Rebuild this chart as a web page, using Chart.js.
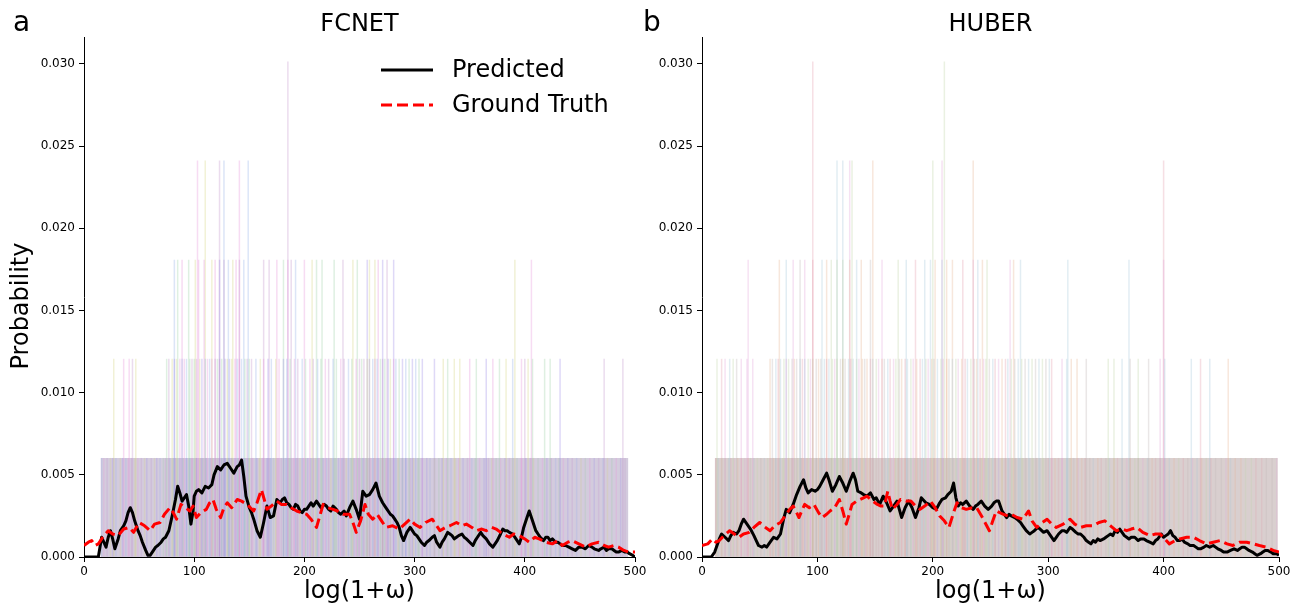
<!DOCTYPE html>
<html><head><meta charset="utf-8">
<script src="https://cdn.jsdelivr.net/npm/chart.js@4.4.1/dist/chart.umd.min.js"></script>
<style>
html,body{margin:0;padding:0;background:#fff;}
#wrap{position:relative;width:1300px;height:608px;overflow:hidden;background:#fff;}
.box{position:absolute;top:0;}
</style></head><body>
<div id="wrap">
<div class="box" style="left:0;width:650px;height:608px"><canvas id="c1" width="650" height="608"></canvas></div>
<div class="box" style="left:640px;width:660px;height:608px"><canvas id="c2" width="660" height="608"></canvas></div>
</div>
<script>
// ---------- ticks / labels ----------
const xTickValues = [0, 100, 200, 300, 400, 500];
const xTickLabels = ['0', '100', '200', '300', '400', '500'];
const yTickValues = [0, 0.005, 0.010, 0.015, 0.020, 0.025, 0.030];
const yTickLabels = ['0.000', '0.005', '0.010', '0.015', '0.020', '0.025', '0.030'];
const seriesNames = ['Predicted', 'Ground Truth'];
const panelTitles = ['FCNET', 'HUBER'];
const panelLetters = ['a', 'b'];
const xAxisLabel = 'log(1+ω)';
const yAxisLabel = 'Probability';
// histogram bar heights (one sample in a bin = 1 step)
const barLevels = [0.00603, 0.01206, 0.01809, 0.02412, 0.03015];

// ---------- FCNET curves [x, probability] ----------
const fcnetPred = [[0,0],[13,0],[16,0.0012],[18,0.0009],[20,0.0006],[22,0.0012],[24,0.0016],[26,0.0011],[28,0.0005],[31,0.0011],[33,0.0016],[36,0.0019],[38,0.0022],[40,0.0027],[42,0.003],[44,0.0027],[46,0.0022],[49,0.0016],[51,0.0013],[53,0.0009],[56,0.0004],[58,0.0001],[60,0.0001],[62,0.0003],[65,0.0006],[67,0.0007],[70,0.0009],[72,0.0011],[74,0.0012],[77,0.0016],[80,0.0025],[83,0.0035],[85,0.0043],[87,0.0039],[89,0.0034],[91,0.0036],[93,0.0038],[95,0.0031],[97,0.002],[99,0.0028],[100,0.0037],[102,0.004],[104,0.0041],[107,0.0039],[110,0.0043],[113,0.0042],[116,0.0044],[118,0.005],[121,0.0055],[124,0.0053],[127,0.0056],[130,0.0057],[133,0.0054],[136,0.0051],[139,0.0055],[141,0.0056],[143,0.0059],[145,0.0049],[147,0.0037],[150,0.003],[152,0.0027],[154,0.0023],[157,0.0016],[160,0.0012],[163,0.0021],[166,0.0031],[169,0.0024],[172,0.0025],[175,0.0035],[178,0.0033],[180,0.0035],[182,0.0036],[184,0.0033],[186,0.0032],[188,0.003],[190,0.0029],[192,0.0032],[194,0.0031],[196,0.0028],[198,0.0027],[200,0.0029],[202,0.0029],[204,0.0031],[206,0.0033],[208,0.0031],[211,0.0034],[213,0.0032],[215,0.003],[218,0.0032],[220,0.0031],[222,0.0029],[224,0.0028],[226,0.0031],[229,0.0029],[231,0.0027],[233,0.0026],[236,0.0028],[238,0.0025],[241,0.003],[244,0.0034],[247,0.0029],[250,0.0023],[253,0.004],[256,0.0037],[259,0.0038],[262,0.0041],[265,0.0045],[268,0.0037],[271,0.0033],[273,0.0031],[275,0.0029],[278,0.0026],[280,0.0025],[282,0.0023],[284,0.0021],[286,0.0018],[288,0.0013],[290,0.001],[293,0.0015],[296,0.0018],[298,0.0016],[300,0.0014],[302,0.0013],[304,0.0011],[306,0.0009],[309,0.0007],[311,0.0009],[313,0.001],[316,0.0012],[318,0.0013],[320,0.0009],[323,0.0006],[325,0.0009],[327,0.0011],[330,0.0015],[332,0.0014],[334,0.0013],[336,0.0011],[338,0.0012],[340,0.0013],[343,0.0014],[345,0.0012],[347,0.0011],[350,0.0009],[353,0.0007],[355,0.001],[357,0.0012],[360,0.0015],[362,0.0013],[365,0.0011],[368,0.0008],[371,0.0006],[373,0.0008],[375,0.001],[378,0.0014],[380,0.0017],[382,0.0016],[384,0.0016],[386,0.0015],[389,0.0014],[392,0.0011],[395,0.0008],[397,0.0012],[399,0.0018],[402,0.0024],[404,0.0028],[407,0.0022],[410,0.0016],[412,0.0014],[414,0.0012],[417,0.001],[419,0.0012],[421,0.0012],[423,0.001],[425,0.0011],[428,0.0009],[430,0.0009],[432,0.0008],[434,0.0007],[437,0.0007],[440,0.0006],[443,0.0005],[446,0.0004],[449,0.0006],[452,0.0006],[455,0.0005],[458,0.0007],[461,0.0006],[463,0.0005],[467,0.0004],[469,0.0005],[472,0.0006],[474,0.0004],[476,0.0005],[479,0.0005],[481,0.0004],[483,0.0003],[485,0.0003],[488,0.0004],[491,0.0003],[493,0.0003],[495,0.0002],[498,0.0001],[500,0]];
const fcnetTruth = [[0,0.0007],[4,0.0009],[7,0.001],[10,0.0007],[13,0.0008],[17,0.0012],[22,0.0016],[26,0.0014],[31,0.0013],[36,0.0017],[41,0.0018],[45,0.0015],[50,0.0021],[55,0.0019],[60,0.0016],[64,0.002],[69,0.0021],[73,0.0026],[78,0.003],[81,0.0027],[84,0.0023],[88,0.0032],[92,0.003],[96,0.0028],[99,0.0031],[102,0.0024],[106,0.0027],[111,0.0029],[114,0.0033],[117,0.0035],[120,0.0029],[124,0.0024],[127,0.003],[130,0.0033],[134,0.003],[139,0.0035],[143,0.0034],[148,0.0032],[151,0.003],[154,0.0028],[157,0.0033],[161,0.0041],[164,0.0034],[166,0.0029],[170,0.0031],[175,0.0034],[179,0.0032],[184,0.0032],[188,0.003],[193,0.0028],[197,0.0027],[202,0.0026],[206,0.0023],[211,0.0018],[214,0.0025],[217,0.0032],[221,0.003],[226,0.0029],[230,0.0028],[235,0.0026],[238,0.0026],[241,0.0026],[244,0.0021],[247,0.0015],[251,0.0022],[255,0.0032],[258,0.0026],[262,0.0023],[266,0.0026],[270,0.0022],[274,0.0018],[280,0.0019],[286,0.0017],[291,0.002],[296,0.0023],[300,0.002],[305,0.0018],[310,0.0021],[316,0.0023],[320,0.0019],[323,0.0016],[328,0.0018],[332,0.0019],[338,0.0021],[343,0.0019],[347,0.002],[352,0.0018],[356,0.0016],[361,0.0017],[365,0.0016],[370,0.0018],[374,0.0017],[380,0.0014],[386,0.0012],[390,0.0014],[395,0.0013],[400,0.0011],[404,0.0009],[409,0.0012],[413,0.0011],[419,0.0009],[425,0.0008],[430,0.001],[434,0.0007],[439,0.0009],[443,0.001],[449,0.0008],[455,0.0006],[461,0.0008],[467,0.0009],[472,0.0007],[476,0.0006],[481,0.0007],[485,0.0006],[490,0.0004],[494,0.0003],[500,0.0003]];

// ---------- HUBER curves ----------
const huberPred = [[0,0],[8,0],[11,0.0003],[13,0.0007],[15,0.0011],[17,0.0014],[20,0.0012],[23,0.001],[25,0.0013],[27,0.0015],[30,0.0014],[32,0.0016],[34,0.002],[36,0.0023],[39,0.002],[42,0.0017],[45,0.0013],[47,0.001],[49,0.0007],[52,0.0006],[54,0.0007],[56,0.0006],[59,0.0009],[62,0.0012],[65,0.0011],[68,0.0014],[71,0.0024],[73,0.0029],[76,0.0027],[79,0.0032],[82,0.0038],[85,0.0043],[88,0.0047],[90,0.0042],[92,0.0039],[95,0.0041],[98,0.004],[100,0.0041],[102,0.0043],[105,0.0047],[108,0.0051],[110,0.0047],[113,0.004],[116,0.0044],[119,0.0049],[122,0.0045],[125,0.004],[128,0.0046],[131,0.0051],[133,0.0047],[135,0.004],[138,0.0039],[140,0.0038],[143,0.0037],[146,0.0039],[149,0.0035],[151,0.0036],[154,0.0032],[157,0.0037],[160,0.0033],[163,0.0028],[166,0.0031],[169,0.0034],[171,0.0029],[173,0.0024],[176,0.003],[179,0.0034],[182,0.003],[185,0.0024],[188,0.003],[190,0.0036],[194,0.0033],[197,0.0032],[200,0.003],[203,0.0029],[206,0.0033],[208,0.0035],[211,0.0036],[213,0.0038],[216,0.004],[218,0.0045],[220,0.0036],[222,0.0031],[224,0.0033],[226,0.0032],[229,0.0034],[232,0.0031],[235,0.0029],[237,0.0031],[239,0.0032],[242,0.0034],[245,0.0031],[248,0.0029],[251,0.0031],[253,0.0033],[255,0.0034],[257,0.0034],[260,0.0028],[262,0.0026],[264,0.0024],[266,0.0026],[268,0.0025],[271,0.0024],[273,0.0023],[276,0.0021],[278,0.0019],[281,0.0016],[284,0.0014],[286,0.0015],[288,0.0016],[291,0.0018],[293,0.0017],[296,0.0015],[299,0.0016],[302,0.0013],[305,0.001],[307,0.0012],[309,0.0014],[312,0.0016],[314,0.0016],[316,0.0015],[319,0.0018],[321,0.0017],[324,0.0015],[326,0.0014],[328,0.0014],[331,0.0012],[333,0.001],[335,0.0009],[337,0.0008],[339,0.001],[341,0.0009],[343,0.0011],[345,0.001],[348,0.0011],[350,0.0012],[352,0.0013],[354,0.0014],[356,0.0013],[358,0.0016],[360,0.0015],[362,0.0017],[364,0.0015],[366,0.0013],[368,0.0012],[370,0.0011],[372,0.0012],[375,0.0012],[378,0.001],[380,0.0011],[383,0.0011],[385,0.001],[388,0.0009],[391,0.0008],[393,0.001],[395,0.0011],[398,0.0014],[400,0.0012],[402,0.0013],[404,0.0014],[406,0.0016],[408,0.0013],[410,0.0012],[412,0.001],[414,0.001],[416,0.0011],[418,0.0009],[421,0.0008],[423,0.0007],[426,0.0007],[428,0.0006],[430,0.0005],[432,0.0005],[435,0.0006],[437,0.0007],[440,0.0006],[443,0.0007],[445,0.0006],[447,0.0005],[450,0.0004],[452,0.0003],[455,0.0003],[458,0.0004],[461,0.0005],[464,0.0004],[466,0.0005],[468,0.0006],[470,0.0006],[472,0.0005],[474,0.0004],[477,0.0003],[479,0.0002],[481,0.0001],[484,0.0002],[486,0.0003],[488,0.0004],[490,0.0004],[493,0.0003],[495,0.0002],[498,0.0002],[500,0.0001]];
const huberTruth = [[0,0.0007],[5,0.0008],[9,0.0011],[12,0.0009],[15,0.001],[19,0.0013],[24,0.0016],[28,0.0014],[32,0.0012],[36,0.0014],[41,0.0015],[45,0.0018],[50,0.0021],[55,0.0018],[59,0.0016],[63,0.0019],[68,0.0021],[71,0.0024],[73,0.0026],[76,0.0029],[79,0.0031],[82,0.0027],[84,0.0024],[87,0.0029],[89,0.0032],[93,0.003],[97,0.0032],[101,0.0027],[104,0.0024],[108,0.0026],[111,0.0028],[115,0.003],[119,0.0035],[122,0.0028],[125,0.002],[128,0.0027],[130,0.0032],[134,0.0034],[137,0.0035],[140,0.0036],[143,0.0037],[148,0.0034],[152,0.0032],[155,0.0031],[158,0.0031],[161,0.004],[163,0.0034],[165,0.0029],[169,0.0032],[172,0.0035],[177,0.0034],[181,0.0034],[185,0.0031],[189,0.0029],[193,0.0031],[198,0.0034],[202,0.003],[206,0.0025],[210,0.0022],[214,0.0018],[218,0.0027],[221,0.0033],[225,0.003],[229,0.0029],[234,0.003],[238,0.003],[243,0.0024],[249,0.0016],[252,0.0022],[255,0.0028],[258,0.0027],[261,0.0026],[265,0.0025],[268,0.0026],[273,0.0024],[278,0.0023],[283,0.0028],[286,0.0022],[290,0.0018],[295,0.0021],[299,0.0023],[303,0.002],[307,0.0018],[313,0.002],[319,0.0023],[323,0.002],[328,0.0018],[333,0.0019],[339,0.0019],[344,0.0021],[349,0.0022],[354,0.0019],[359,0.0016],[364,0.0017],[368,0.0016],[372,0.0017],[377,0.0018],[382,0.0015],[388,0.0013],[393,0.0014],[397,0.0014],[401,0.0011],[405,0.0008],[410,0.001],[414,0.0011],[420,0.0012],[426,0.0012],[431,0.001],[437,0.0008],[443,0.0009],[449,0.001],[455,0.0008],[460,0.0007],[466,0.0009],[472,0.0009],[478,0.0008],[483,0.0007],[489,0.0006],[495,0.0004],[500,0.0003]];

// ---------- background per-sample histogram bins (x positions by height step) ----------
const fcnetBand = [15, 494];
const fcnetBins1 = [16,18,21,24,26,29,33,35,38,40,43,46,49,52,55,57,61,64,66,69,72,74,78,81,83,87,90,93,96,98,102,106,108,111,115,117,121,125,128,131,134,137,140,144,146,150,153,157,159,162,166,169,172,176,179,183,186,190,193,196,199,203,206,210,213,217,220,224,228,231,234,238,242,245,249,253,256,260,263,267,271,274,278,281,285,289,292,296,299,303,307,311,314,318,322,325,329,333,337,340,344,348,352,355,359,363,367,370,374,378,382,386,389,393,397,401,405,408,412,416,420,424,428,431,435,439,443,447,451,455,459,463,467,471,475,479,483,487,491];
const fcnetBins2 = [27,36,41,44,47,75,77,80,82,84,87,89,91,93,96,98,100,102,105,107,110,112,114,116,119,121,123,125,128,130,132,134,137,139,141,143,146,148,150,152,156,160,163,167,170,174,177,181,184,187,191,194,198,201,205,208,212,215,219,222,226,229,233,236,240,243,247,250,252,254,257,259,262,264,266,269,271,273,276,278,281,283,286,289,292,295,298,301,304,307,318,326,330,336,341,350,356,365,371,377,383,389,397,400,403,407,418,423,432,472,489];
const fcnetBins3 = [82,85,89,95,101,104,109,116,119,123,127,131,135,138,141,145,163,168,175,181,185,188,192,200,207,211,216,227,235,244,248,257,259,264,267,271,275,281,391,406];
const fcnetBins4 = [103,110,123,127,141,149];
const fcnetBins5 = [185];

const huberBand = [11, 499];
const huberBins1 = [12,14,17,20,23,25,28,31,34,37,40,42,45,48,51,54,57,59,62,64,67,70,72,75,78,80,83,86,88,91,94,96,99,102,104,107,110,112,115,118,121,123,126,129,131,134,137,140,142,145,148,151,153,156,159,162,164,167,170,173,176,178,181,184,187,190,192,195,198,201,204,207,209,212,215,218,221,224,227,230,233,236,239,242,245,248,251,254,257,260,263,266,269,272,275,278,281,284,287,290,293,296,300,303,306,309,312,316,319,322,326,329,332,336,339,343,346,350,353,357,360,364,368,371,375,378,382,386,390,393,397,401,405,409,413,417,421,425,429,433,437,441,445,450,454,458,462,467,471,476,480,485,489,494,498];
const huberBins2 = [13,17,20,24,27,30,34,39,44,59,61,64,66,68,71,73,75,78,80,82,85,87,89,92,94,96,99,101,103,106,108,110,113,115,117,120,122,124,127,129,131,134,136,139,141,143,146,148,151,153,156,158,161,163,166,168,171,173,176,178,181,183,186,189,191,194,196,199,201,204,207,209,212,214,217,220,222,225,228,230,233,236,238,241,244,246,249,252,254,257,260,263,265,268,271,274,277,280,283,286,289,292,295,298,301,303,312,316,320,325,333,352,357,364,371,378,387,397,401,424,432,440,456];
const huberBins3 = [40,67,73,79,85,89,96,104,108,112,117,122,128,134,138,146,156,170,177,185,193,198,202,208,212,217,226,235,239,243,247,267,270,276,317,370,400];
const huberBins4 = [117,122,128,130,148,200,208,235,400];
const huberBins5 = [96,210];

// ---------- styling ----------
const FONT = 'DejaVu Sans';
const fcnetPalette = ['rgba(150,130,230,A)','rgba(230,140,215,A)','rgba(150,205,160,A)','rgba(210,210,120,A)','rgba(140,170,230,A)','rgba(190,140,200,A)'];
const huberPalette = ['rgba(225,150,165,A)','rgba(185,210,160,A)','rgba(230,175,140,A)','rgba(160,195,215,A)','rgba(225,160,215,A)','rgba(185,175,175,A)'];

function pal(p, a) { return p.map(c => c.replace('A', a)); }

function barsDs(xs, level, palette, alpha) {
  const cols = pal(palette, alpha);
  return {
    type: 'bar', data: xs.map(x => ({x: x, y: level})),
    backgroundColor: xs.map((x, i) => cols[(i * 7 + Math.round(x)) % cols.length]),
    barThickness: 1.5, grouped: false, borderWidth: 0, order: 5, inflateAmount: 0
  };
}
function bandDs(range, level, color, order) {
  return {
    type: 'line', data: [{x: range[0], y: level}, {x: range[1], y: level}],
    fill: 'origin', backgroundColor: color, borderWidth: 0, pointRadius: 0, order: order
  };
}
function lineDs(pts, name, color, dash, order) {
  return {
    type: 'line', label: name, data: pts.map(p => ({x: p[0], y: p[1]})),
    borderColor: color, borderWidth: 3, borderDash: dash || [],
    pointRadius: 0, tension: 0, fill: false, order: order, borderJoinStyle: 'round', borderCapStyle: 'butt'
  };
}

const textPlugin = {
  id: 'panelText',
  afterDraw(chart, args, o) {
    const ctx = chart.ctx, ca = chart.chartArea;
    ctx.save();
    ctx.fillStyle = '#000';
    ctx.textBaseline = 'alphabetic';
    ctx.font = '24px "' + FONT + '"';
    ctx.textAlign = 'center';
    ctx.fillText(o.title, (ca.left + ca.right) / 2, 31);
    if (o.yLabel) {
      ctx.save();
      ctx.translate(22, 306);
      ctx.rotate(-Math.PI / 2);
      ctx.textBaseline = 'middle';
      ctx.fillText(o.yLabel, 0, 0);
      ctx.restore();
    }
    ctx.font = '28px "' + FONT + '"';
    ctx.textAlign = 'left';
    ctx.fillText(o.letter, o.letterX, 31);
    if (o.legend) {
      const ds = chart.data.datasets.filter(d => d.label);
      const ys = [70, 105];
      ds.forEach((d, i) => {
        ctx.beginPath();
        ctx.strokeStyle = d.borderColor;
        ctx.lineWidth = d.borderWidth;
        ctx.setLineDash(d.borderDash || []);
        ctx.moveTo(381, ys[i]); ctx.lineTo(433, ys[i]);
        ctx.stroke();
        ctx.setLineDash([]);
        ctx.font = '24px "' + FONT + '"';
        ctx.textBaseline = 'middle';
        ctx.fillText(d.label, 452, ys[i] + 1);
      });
    }
    ctx.restore();
  }
};

function makeChart(id, cfg) {
  const palette = cfg.palette;
  const datasets = [
    lineDs(cfg.pred, seriesNames[0], '#000000', null, 1),
    lineDs(cfg.truth, seriesNames[1], '#ff0000', [11, 5], 0),
    bandDs(cfg.band, barLevels[0], cfg.bandColor, 9),
    barsDs(cfg.bins[0], barLevels[0], palette, 0.22),
    barsDs(cfg.bins[1], barLevels[1], palette, 0.3),
    barsDs(cfg.bins[2], barLevels[2], palette, 0.3),
    barsDs(cfg.bins[3], barLevels[3], palette, 0.3),
    barsDs(cfg.bins[4], barLevels[4], palette, 0.3)
  ];
  const grid = {display: true, drawOnChartArea: false, drawTicks: true, tickLength: 5, tickColor: '#000', tickWidth: 1, offset: false};
  const border = {display: true, color: '#000', width: 1};
  return new Chart(document.getElementById(id), {
    type: 'line',
    data: {datasets: datasets},
    options: {
      responsive: false, animation: false, devicePixelRatio: 1,
      layout: {padding: {left: 0, right: cfg.padRight, top: 37, bottom: 0}},
      plugins: {legend: {display: false}, tooltip: {enabled: false}, panelText: cfg.text},
      scales: {
        x: {
          type: 'linear', min: 0, max: 500, offset: false,
          afterBuildTicks: s => { s.ticks = xTickValues.map(v => ({value: v})); },
          ticks: {callback: (v, i) => xTickLabels[i], font: {family: FONT, size: 12}, color: '#000', padding: 3, maxRotation: 0, autoSkip: false},
          grid: grid, border: border,
          title: {display: true, text: xAxisLabel, font: {family: FONT, size: 24}, color: '#000', padding: {top: 0, bottom: 2}},
          afterFit: s => { s.height = 51; }
        },
        y: {
          type: 'linear', min: 0, max: 0.03164,
          afterBuildTicks: s => { s.ticks = yTickValues.map(v => ({value: v})); },
          ticks: {callback: (v, i) => yTickLabels[i], font: {family: FONT, size: 12}, color: '#000', padding: 4},
          grid: grid, border: border,
          afterFit: s => { s.width = cfg.yWidth; }
        }
      }
    },
    plugins: [textPlugin]
  });
}

makeChart('c1', {
  pred: fcnetPred, truth: fcnetTruth, band: fcnetBand,
  bins: [fcnetBins1, fcnetBins2, fcnetBins3, fcnetBins4, fcnetBins5],
  palette: fcnetPalette, bandColor: 'rgba(150,130,175,0.42)',
  padRight: 15, yWidth: 84,
  text: {title: panelTitles[0], letter: panelLetters[0], letterX: 13, legend: true, yLabel: yAxisLabel}
});
makeChart('c2', {
  pred: huberPred, truth: huberTruth, band: huberBand,
  bins: [huberBins1, huberBins2, huberBins3, huberBins4, huberBins5],
  palette: huberPalette, bandColor: 'rgba(165,140,140,0.42)',
  padRight: 21, yWidth: 62,
  text: {title: panelTitles[1], letter: panelLetters[1], letterX: 3, legend: false, yLabel: null}
});
</script>
</body></html>
